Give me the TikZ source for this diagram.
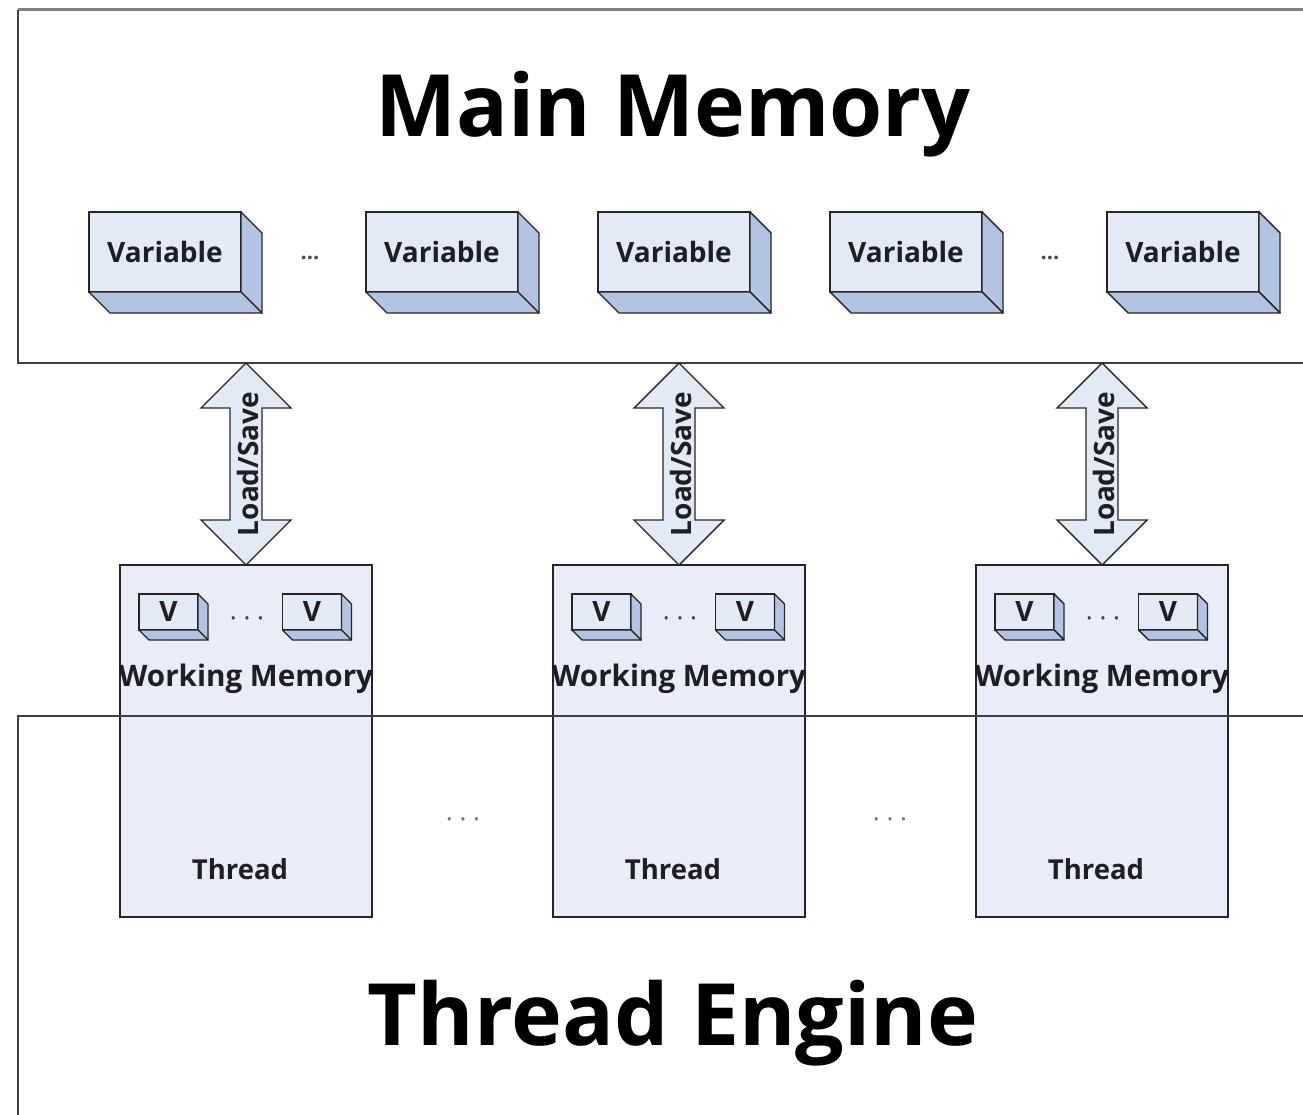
\documentclass[tikz,border=0pt]{standalone}
\usepackage{fontspec}
\setmainfont{Open Sans}
\usetikzlibrary{calc}
\definecolor{frontblue}{HTML}{E3E9F5}
\definecolor{sideblue}{HTML}{B3C4E2}
\definecolor{threadfill}{HTML}{E8EDF7}
\definecolor{edge}{HTML}{262626}
\definecolor{txt}{HTML}{1E1E24}
\tikzset{
  cubefront/.style={draw=edge, line width=1.4pt, fill=frontblue, inner sep=0pt, outer sep=0pt, text=txt},
  cubeside/.style={draw=edge, line width=1.4pt, fill=sideblue, line join=round},
  threadbox/.style={draw=edge, line width=1.6pt, fill=threadfill, inner sep=0pt, outer sep=0pt},
  frame/.style={draw=black!75, line width=1.8pt},
  topframe/.style={draw=black!50, line width=3pt},
  lsarrowstyle/.style={draw=edge, line width=1.4pt, fill=frontblue, line join=miter},
  lslabel/.style={rotate=90, font=\bfseries\fontsize{28}{30}\selectfont, text=txt, inner sep=0pt},
  wmlabel/.style={font=\bfseries\fontsize{29.6}{31}\selectfont, text=txt, inner sep=0pt},
  thlabel/.style={font=\bfseries\fontsize{27.5}{29}\selectfont, text=txt, inner sep=0pt},
  title/.style={font=\bfseries\fontsize{86}{90}\selectfont, text=black, inner sep=0pt, anchor=base},
  smalldots/.style={font=\bfseries\fontsize{22}{24}\selectfont, text=black!70, inner sep=0pt},
  greydots/.style={font=\fontsize{26}{28}\selectfont, text=black!55, inner sep=0pt},
}
\newcommand{\mkcube}[8]{%
  \node[cubefront, minimum width=#4, minimum height=#5, font=#8] (#1) at (#2,#3) {#7};
  \draw[cubeside] (#1.north east) -- ++(#6,#6) -- ($(#1.south east)+(#6,#6)$) -- (#1.south east) -- cycle;
  \draw[cubeside] (#1.south west) -- ++(#6,#6) -- ($(#1.south east)+(#6,#6)$) -- (#1.south east) -- cycle;
}
\newcommand{\mkcubeat}[7]{%
  \node[cubefront, minimum width=#3, minimum height=#4, font=#7] (#1) at (#2) {#6};
  \draw[cubeside] (#1.north east) -- ++(#5,#5) -- ($(#1.south east)+(#5,#5)$) -- (#1.south east) -- cycle;
  \draw[cubeside] (#1.south west) -- ++(#5,#5) -- ($(#1.south east)+(#5,#5)$) -- (#1.south east) -- cycle;
}
\newcommand{\lsarrow}[1]{%
  \path (#1.north |- mmbottom) coordinate (#1-up) (#1.north) coordinate (#1-dn);
  \draw[lsarrowstyle] (#1-up) -- ++(45,45) -- ++(-29,0) -- ($(#1-dn)+(16,-45)$) -- ++(29,0) -- (#1-dn)
     -- ++(-45,-45) -- ++(29,0) -- ($(#1-up)+(-16,45)$) -- ++(-29,0) -- cycle;
  \node[lslabel] (#1-lbl) at ($(#1-up)!0.5!(#1-dn)+(2,0)$) {Load/Save};
}
\begin{document}
\begin{tikzpicture}[x=1pt, y=-1pt]
\useasboundingbox (0,0) rectangle (1303,1115);
% Main memory frame
\coordinate (mmtl) at (18,10);
\coordinate (mmtr) at (1303,10);
\coordinate (mmbl) at (18,363);
\coordinate (mmbottom) at (1303,363);
\draw[topframe] (mmtl) -- (mmtr);
\draw[frame] (mmtl) -- (mmbl) -- (mmbottom);
\node[title] (mmtitle) at (673,137) {Main Memory};
% Variables
\def\varfont{\bfseries\fontsize{28}{30}\selectfont}
\mkcube{var1}{165}{252}{152}{80}{21}{Variable}{\varfont}
\mkcube{var2}{442}{252}{152}{80}{21}{Variable}{\varfont}
\mkcube{var3}{674}{252}{152}{80}{21}{Variable}{\varfont}
\mkcube{var4}{906}{252}{152}{80}{21}{Variable}{\varfont}
\mkcube{var5}{1183}{252}{152}{80}{21}{Variable}{\varfont}
\node[smalldots] (vdots1) at (310,258) {...};
\node[smalldots] (vdots2) at (1050,258) {...};
% Threads
\def\vfont{\bfseries\fontsize{28}{30}\selectfont}
\foreach \t/\c in {t1/246, t2/679, t3/1102}{
  \node[threadbox, minimum width=252, minimum height=352] (\t) at (\c,741) {};
  \mkcubeat{\t v1}{$(\t.north west)+(48.5,47)$}{59}{36}{10}{V}{\vfont}
  \mkcubeat{\t v2}{$(\t.north west)+(192,47)$}{59}{36}{10}{V}{\vfont}
  \node[greydots, text=black!75] (\t dots) at ($(\t.north west)+(127,57)$) {· · ·};
  \node[wmlabel] (\t wm) at ($(\t.north west)+(126,114)$) {Working Memory};
  \node[thlabel] (\t th) at ($(\t.north west)+(120,304)$) {Thread};
  \lsarrow{\t}
}
\node[greydots] (tdots1) at (463,823) {· · ·};
\node[greydots] (tdots2) at (890,823) {· · ·};
% Thread engine frame
\coordinate (tetl) at (18,716);
\coordinate (tetr) at (1303,716);
\coordinate (tebl) at (18,1115);
\draw[frame] (tetr) -- (tetl) -- (tebl);
\node[title] (tetitle) at (673,1045) {Thread Engine};
\end{tikzpicture}
\end{document}
